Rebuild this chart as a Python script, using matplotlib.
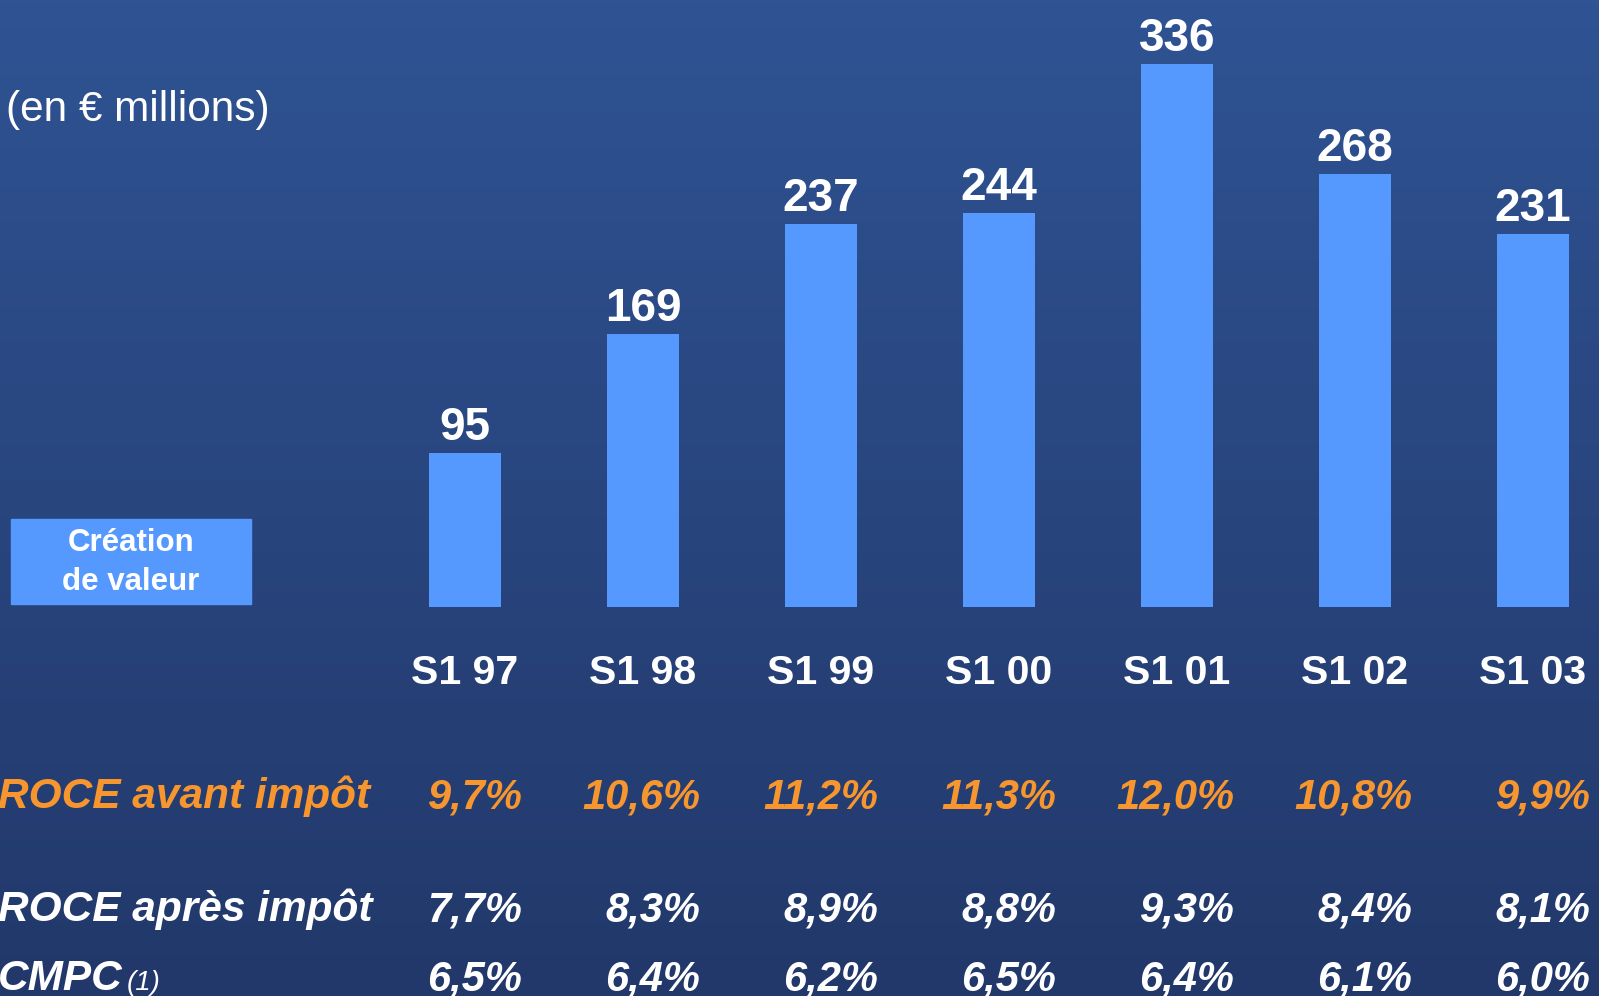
import numpy as np
import matplotlib
matplotlib.use("Agg")
import matplotlib.pyplot as plt
from matplotlib.colors import LinearSegmentedColormap
from matplotlib.patches import Rectangle
from matplotlib.transforms import blended_transform_factory

# data
categories = ['S1 97', 'S1 98', 'S1 99', 'S1 00', 'S1 01', 'S1 02', 'S1 03']
creation_valeur = [95, 169, 237, 244, 336, 268, 231]
roce_avant = [9.7, 10.6, 11.2, 11.3, 12.0, 10.8, 9.9]
roce_apres = [7.7, 8.3, 8.9, 8.8, 9.3, 8.4, 8.1]
cmpc = [6.5, 6.4, 6.2, 6.5, 6.4, 6.1, 6.0]

W, H = 1599, 996
plt.rcParams['font.family'] = ['Liberation Sans', 'DejaVu Sans']

bar_col = '#5599FF'
orange = '#F7962F'


def pct(v):
    return ('%.1f' % v).replace('.', ',') + '%'


fig = plt.figure(figsize=(W / 100, H / 100), dpi=100)

# overlay in pixel coords (background + free text)
ov = fig.add_axes([0, 0, 1, 1])
ov.set_xlim(0, W)
ov.set_ylim(H, 0)
ov.axis('off')
cmap = LinearSegmentedColormap.from_list('bg', ['#2F5393', '#22386A'])
grad = np.linspace(0, 1, 256).reshape(-1, 1)
ov.imshow(grad, cmap=cmap, aspect='auto', extent=[0, W, H, 0], zorder=0)

# bar axes
ax = fig.add_axes([0, 0, 1, 1])
ax.patch.set_alpha(0)
ax.axis('off')
x = np.arange(len(categories))
ax.set_xlim(-465 / 178, (W - 465) / 178)
ax.set_ylim(-389 / 1.616, (H - 389) / 1.616)
bars = ax.bar(x, creation_valeur, width=0.405, color=bar_col, zorder=2)
for b, v in zip(bars, creation_valeur):
    ax.annotate(str(v), (b.get_x() + b.get_width() / 2, v), xytext=(0, 13),
                textcoords='offset pixels', ha='center', va='baseline',
                fontsize=33, fontweight='bold', color='white')

tr = blended_transform_factory(ax.transData, ov.transData)
for i, c in enumerate(categories):
    ax.text(i, 684, c, transform=tr, ha='center', va='baseline',
            fontsize=29.5, fontweight='bold', color='white')

# title
ov.text(6, 121, '(en € millions)', ha='left', va='baseline', fontsize=30.5,
        color='white')

# legend box
ov.add_patch(Rectangle((11, 519), 240, 85, color=bar_col, zorder=2))
ov.text(131, 551, 'Création', ha='center', va='baseline', fontsize=22.5,
        fontweight='bold', color='white', zorder=3)
ov.text(131, 590, 'de valeur', ha='center', va='baseline', fontsize=22.5,
        fontweight='bold', color='white', zorder=3)

# table rows
rows = [('ROCE avant impôt', roce_avant, orange, 808),
        ('ROCE après impôt', roce_apres, 'white', 921),
        ('CMPC', cmpc, 'white', 990)]
for label, vals, col, yb in rows:
    ov.text(-2, yb, label, ha='left', va='baseline', fontsize=30.5,
            fontweight='bold', fontstyle='italic', color=col)
    for i, v in enumerate(vals):
        ax.text(i + 0.32, yb, pct(v), transform=tr, ha='right', va='baseline',
                fontsize=30, fontweight='bold', fontstyle='italic', color=col)

ov.text(127, 990, '(1)', ha='left', va='baseline', fontsize=20,
        fontstyle='italic', color='white')

fig.savefig('out.png', dpi=100)
